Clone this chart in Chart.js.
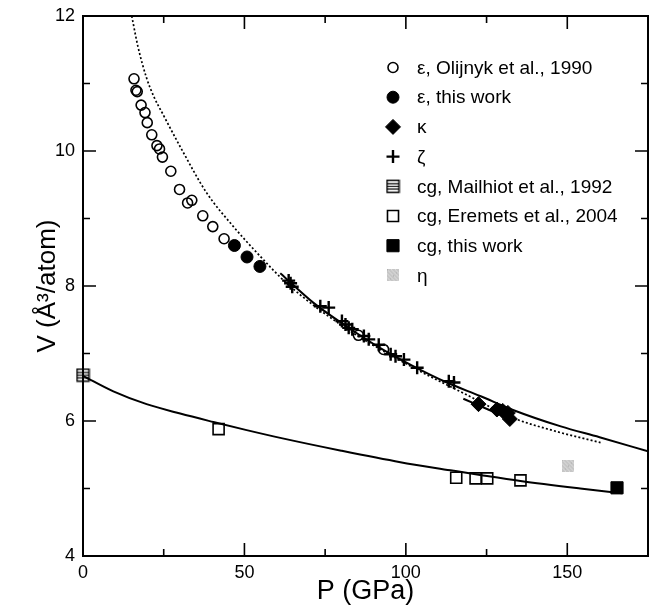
<!DOCTYPE html>
<html lang="en">
<head>
<meta charset="UTF-8">
<title>V vs P</title>
<script src="https://cdn.jsdelivr.net/npm/chart.js"></script>
<style>
    html, body { margin: 0; padding: 0; background: #fff; }
    #wrap { width: 651px; height: 608px; }
</style>
</head>
<body>
<div id="wrap"><canvas id="chart" width="651" height="608"></canvas></div>
<script>
// ---- data (P in GPa, V in A^3/atom) ----
const olijnykP = [15.8, 16.4, 16.8, 18.0, 19.2, 19.9, 21.3, 22.9, 23.7, 24.6, 27.2, 29.9, 32.4, 33.7, 37.1, 40.2, 43.7, 85.3, 93.1];
const olijnykV = [11.07, 10.90, 10.88, 10.68, 10.57, 10.42, 10.24, 10.08, 10.03, 9.91, 9.70, 9.43, 9.23, 9.27, 9.04, 8.88, 8.70, 7.27, 7.06];

const epsThisP = [46.9, 50.8, 54.8];
const epsThisV = [8.60, 8.43, 8.29];

const kappaP = [122.5, 128.2, 130.0, 131.6, 132.2];
const kappaV = [6.25, 6.17, 6.15, 6.12, 6.03];

const zetaP = [63.7, 64.3, 64.8, 73.5, 76.1, 80.2, 81.3, 82.3, 83.4, 87.0, 88.5, 91.6, 95.3, 96.8, 99.4, 103.5, 113.3, 114.9];
const zetaV = [8.08, 8.04, 7.99, 7.70, 7.68, 7.48, 7.43, 7.38, 7.36, 7.26, 7.21, 7.13, 6.99, 6.96, 6.91, 6.79, 6.59, 6.57];

const mailhiotP = [0];
const mailhiotV = [6.68];

const eremetsP = [42.0, 115.6, 121.6, 125.2, 135.5];
const eremetsV = [5.88, 5.16, 5.15, 5.15, 5.12];

const cgThisP = [165.4];
const cgThisV = [5.01];

const etaP = [150.2];
const etaV = [5.34];

// fitted curves, sampled along the drawn lines
const epsFitP = [15.1, 17.0, 19.7, 22.0, 24.7, 30.6, 38.3, 46.6, 54.9, 63.1, 80, 100, 120, 133, 147, 160.3];
const epsFitV = [12.0, 11.55, 11.08, 10.80, 10.55, 10.02, 9.38, 8.88, 8.44, 8.04, 7.42, 6.85, 6.36, 6.05, 5.84, 5.68];

const zetaFitP = [61.1, 71.4, 81.7, 92.1, 102.4, 112.7, 123, 133.4, 148, 160, 175];
const zetaFitV = [8.19, 7.75, 7.40, 7.08, 6.81, 6.57, 6.37, 6.16, 5.92, 5.76, 5.55];

const kappaFitP = [117.8, 125.5, 133.2];
const kappaFitV = [6.33, 6.17, 6.01];

const cgFitP = [0, 9.4, 19.7, 30.1, 40.4, 50.7, 61.1, 80, 98.3, 113.8, 123, 135.5, 154, 167];
const cgFitV = [6.67, 6.44, 6.25, 6.11, 5.985, 5.865, 5.75, 5.56, 5.39, 5.27, 5.20, 5.11, 5.00, 4.93];

// axes
const xMajorTicks = [0, 50, 100, 150];
const xMinorTicks = [25, 75, 125];
const yMajorTicks = [4, 6, 8, 10, 12];
const yMinorTicks = [5, 7, 9, 11];

const FONT = "'Liberation Sans', Arial, Helvetica, sans-serif";
Chart.defaults.font.family = FONT;
Chart.defaults.color = '#000';

function pts(xs, ys) {
    return xs.map((x, i) => ({ x: x, y: ys[i] }));
}

// striped square (Mailhiot)
function makeStriped() {
    const c = document.createElement('canvas');
    c.width = 15; c.height = 15;
    const g = c.getContext('2d');
    g.strokeStyle = '#000';
    g.lineWidth = 1.5;
    g.strokeRect(1.5, 1.5, 12, 12);
    g.lineWidth = 1.2;
    g.beginPath();
    [4.8, 7.5, 10.2].forEach(y => { g.moveTo(1.5, y); g.lineTo(13.5, y); });
    g.stroke();
    return c;
}

// grey grainy square (eta)
function makeGrey() {
    const c = document.createElement('canvas');
    c.width = 12; c.height = 12;
    const g = c.getContext('2d');
    g.fillStyle = '#c6c6c6';
    g.fillRect(0, 0, 12, 12);
    g.fillStyle = '#dcdcdc';
    for (let i = 0; i < 12; i++) {
        for (let j = 0; j < 12; j++) {
            if ((i * 3 + j * 5) % 4 === 0) g.fillRect(i, j, 1, 1);
        }
    }
    g.fillStyle = '#b0b0b0';
    for (let i = 0; i < 12; i += 3) g.fillRect(i, (i * 7) % 12, 1, 1);
    return c;
}

const stripedImg = makeStriped();
const greyImg = makeGrey();

function markers(label, xs, ys, style, radius, fill, bw, extra) {
    return Object.assign({
        label: label,
        data: pts(xs, ys),
        showLine: false,
        pointStyle: style,
        pointRadius: radius,
        pointHoverRadius: radius,
        pointBackgroundColor: fill,
        pointBorderColor: '#000',
        pointBorderWidth: bw,
        order: 0,
        isMarker: true,
    }, extra || {});
}

function curve(xs, ys, dash, extra) {
    return Object.assign({
        data: pts(xs, ys),
        showLine: true,
        borderColor: '#000',
        borderWidth: 2,
        borderDash: dash,
        pointRadius: 0,
        cubicInterpolationMode: 'monotone',
        fill: false,
        order: 10,
    }, extra || {});
}

const datasets = [
    markers('\u03b5, Olijnyk et al., 1990', olijnykP, olijnykV, 'circle', 5, 'rgba(0,0,0,0)', 1.6),
    markers('\u03b5, this work', epsThisP, epsThisV, 'circle', 6, '#000', 1),
    markers('\u03ba', kappaP, kappaV, 'rectRot', 7.5, '#000', 1),
    markers('\u03b6', zetaP, zetaV, 'cross', 6.5, '#000', 2.4),
    markers('cg, Mailhiot et al., 1992', mailhiotP, mailhiotV, stripedImg, 7, '#000', 1, { clip: false }),
    markers('cg, Eremets et al., 2004', eremetsP, eremetsV, 'rect', 7.8, 'rgba(0,0,0,0)', 1.6),
    markers('cg, this work', cgThisP, cgThisV, 'rect', 8.6, '#000', 1),
    markers('\u03b7', etaP, etaV, greyImg, 6, '#000', 1),
    curve(epsFitP, epsFitV, [2, 2.2], { borderWidth: 1.7 }),
    curve(zetaFitP, zetaFitV, []),
    curve(kappaFitP, kappaFitV, []),
    curve(cgFitP, cgFitV, []),
];

// draw one legend marker by hand
function drawMarker(ctx, ds, x, y) {
    const r = ds.pointRadius;
    const st = ds.pointStyle;
    ctx.save();
    ctx.lineWidth = ds.pointBorderWidth;
    ctx.strokeStyle = '#000';
    ctx.fillStyle = ds.pointBackgroundColor;
    if (st instanceof HTMLCanvasElement) {
        ctx.drawImage(st, x - st.width / 2, y - st.height / 2);
    } else if (st === 'circle') {
        ctx.beginPath();
        ctx.arc(x, y, r, 0, Math.PI * 2);
        ctx.fill();
        ctx.stroke();
    } else if (st === 'rectRot') {
        ctx.beginPath();
        ctx.moveTo(x - r, y); ctx.lineTo(x, y - r); ctx.lineTo(x + r, y); ctx.lineTo(x, y + r);
        ctx.closePath();
        ctx.fill();
        ctx.stroke();
    } else if (st === 'rect') {
        const s = r * Math.SQRT1_2;
        ctx.beginPath();
        ctx.rect(x - s, y - s, 2 * s, 2 * s);
        ctx.fill();
        ctx.stroke();
    } else if (st === 'cross') {
        ctx.beginPath();
        ctx.moveTo(x - r, y); ctx.lineTo(x + r, y);
        ctx.moveTo(x, y - r); ctx.lineTo(x, y + r);
        ctx.stroke();
    }
    ctx.restore();
}

const insideLegend = {
    id: 'insideLegend',
    afterDraw(chart) {
        const ctx = chart.ctx;
        const items = chart.data.datasets.filter(d => d.isMarker);
        ctx.save();
        ctx.font = '19px ' + FONT;
        ctx.fillStyle = '#000';
        ctx.textBaseline = 'middle';
        ctx.textAlign = 'left';
        items.forEach((ds, i) => {
            const y = 67.5 + i * 29.7;
            drawMarker(ctx, ds, 393, y);
            ctx.fillText(ds.label, 417, y + 1);
        });
        ctx.restore();
    }
};

// box frame with inward ticks on all four sides
const frameTicks = {
    id: 'frameTicks',
    afterDatasetsDraw(chart) {
        const { ctx, chartArea: a, scales: { x, y } } = chart;
        ctx.save();
        ctx.strokeStyle = '#000';
        ctx.lineWidth = 2;
        ctx.strokeRect(a.left, a.top, a.right - a.left, a.bottom - a.top);
        ctx.lineWidth = 1.6;
        ctx.beginPath();
        const xt = (vals, len) => vals.forEach(v => {
            const px = x.getPixelForValue(v);
            ctx.moveTo(px, a.bottom); ctx.lineTo(px, a.bottom - len);
            ctx.moveTo(px, a.top); ctx.lineTo(px, a.top + len);
        });
        const yt = (vals, len) => vals.forEach(v => {
            const py = y.getPixelForValue(v);
            ctx.moveTo(a.left, py); ctx.lineTo(a.left + len, py);
            ctx.moveTo(a.right, py); ctx.lineTo(a.right - len, py);
        });
        xt(xMajorTicks, 13); xt(xMinorTicks, 7);
        yt(yMajorTicks, 13); yt(yMinorTicks, 7);
        ctx.stroke();
        ctx.restore();
    }
};

new Chart(document.getElementById('chart'), {
    type: 'scatter',
    data: { datasets: datasets },
    options: {
        responsive: false,
        animation: false,
        devicePixelRatio: 1,
        layout: { autoPadding: false, padding: { top: 16, right: 3, left: 0, bottom: 0 } },
        plugins: {
            legend: { display: false },
            tooltip: { enabled: false },
        },
        scales: {
            x: {
                type: 'linear',
                min: 0,
                max: 175,
                grid: { display: false, drawTicks: false },
                border: { display: false },
                afterBuildTicks: s => { s.ticks = xMajorTicks.map(v => ({ value: v })); },
                afterFit: s => { s.height = 52; s.paddingLeft = 0; s.paddingRight = 0; },
                ticks: { font: { size: 18 }, color: '#000', padding: 6, maxRotation: 0 },
                title: {
                    display: true,
                    text: 'P (GPa)',
                    font: { size: 27 },
                    color: '#000',
                    padding: { top: 0, bottom: 0 },
                },
            },
            y: {
                type: 'linear',
                min: 4,
                max: 12,
                grid: { display: false, drawTicks: false },
                border: { display: false },
                afterBuildTicks: s => { s.ticks = yMajorTicks.map(v => ({ value: v })); },
                afterFit: s => { s.width = 83; s.paddingTop = 0; s.paddingBottom = 0; },
                ticks: { font: { size: 18 }, color: '#000', padding: 8 },
                title: {
                    display: true,
                    text: 'V (\u00c5\u00b3/atom)',
                    font: { size: 26 },
                    color: '#000',
                    padding: { top: 32, bottom: 0 },
                },
            },
        },
    },
    plugins: [frameTicks, insideLegend],
});
</script>
</body>
</html>
